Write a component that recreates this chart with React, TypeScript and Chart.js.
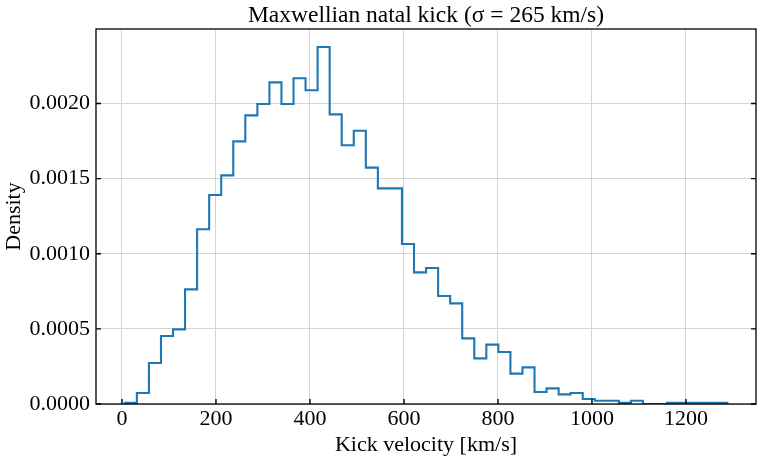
import { useEffect, useRef } from "react";
import { Chart, registerables } from "chart.js";

Chart.register(...registerables);

// Histogram of simulated natal kick speeds (50 equal-width bins, density-normalised)
const binLow = 6;
const binHigh = 1288;
const densities = [
  0.0000078, 0.000073, 0.000273, 0.000453, 0.000497, 0.000763, 0.001163, 0.001391, 0.001522, 0.001748,
  0.001921, 0.001997, 0.002141, 0.001997, 0.002168, 0.002088, 0.002376, 0.001928, 0.001722, 0.001819,
  0.001573, 0.001435, 0.001435, 0.001065, 0.000876, 0.000905, 0.000719, 0.00067, 0.000437, 0.000304,
  0.000395, 0.000346, 0.000202, 0.000244, 0.00008, 0.000104, 0.000064, 0.000073, 0.000033, 0.000022,
  0.000022, 0.0000078, 0.000022, 0, 0, 0.0000078, 0.0000078, 0.0000078, 0.0000078, 0.0000078,
];

const xTicks = [0, 200, 400, 600, 800, 1000, 1200];
const yTicks = [0, 0.0005, 0.001, 0.0015, 0.002];
const xMin = -55.3;
const xMax = 1349;
const yMax = 0.002496;

const titleText = "Maxwellian natal kick (σ = 265 km/s)";
const xLabel = "Kick velocity [km/s]";
const yLabel = "Density";

const serif = "'Liberation Serif', 'Times New Roman', serif";

// Outline of a step histogram: rises from the baseline at the first edge,
// runs along each bin top and drops back at the last edge.
function stepOutline() {
  const n = densities.length;
  const width = (binHigh - binLow) / n;
  const pts: { x: number; y: number }[] = [{ x: binLow, y: 0 }];
  densities.forEach((d, i) => pts.push({ x: binLow + i * width, y: d }));
  pts.push({ x: binHigh, y: densities[n - 1] });
  pts.push({ x: binHigh, y: 0 });
  return pts;
}

// Black frame around the axes with short inward ticks (bottom, left, right),
// plus the title centred over the plotting area.
const framePlugin = {
  id: "axesFrame",
  afterDatasetsDraw(chart: any) {
    const { ctx, chartArea: a, scales } = chart;
    ctx.save();
    ctx.strokeStyle = "#000";
    ctx.lineWidth = 1.3;
    ctx.strokeRect(a.left, a.top, a.right - a.left, a.bottom - a.top);
    ctx.lineWidth = 1.4;
    const len = 5;
    ctx.beginPath();
    xTicks.forEach((v) => {
      const px = scales.x.getPixelForValue(v);
      ctx.moveTo(px, a.bottom);
      ctx.lineTo(px, a.bottom - len);
    });
    yTicks.forEach((v) => {
      const py = scales.y.getPixelForValue(v);
      ctx.moveTo(a.left, py);
      ctx.lineTo(a.left + len, py);
      ctx.moveTo(a.right, py);
      ctx.lineTo(a.right - len, py);
    });
    ctx.stroke();

    ctx.fillStyle = "#000";
    ctx.font = `23.5px ${serif}`;
    ctx.textAlign = "center";
    ctx.textBaseline = "alphabetic";
    ctx.fillText(titleText, (a.left + a.right) / 2, a.top - 7);
    ctx.restore();
  },
};

export default function App() {
  const canvasRef = useRef<HTMLCanvasElement | null>(null);

  useEffect(() => {
    if (!canvasRef.current) return;
    const chart = new Chart(canvasRef.current, {
      type: "line",
      data: {
        datasets: [
          {
            data: stepOutline(),
            // horizontal run first, then the vertical jump at the next edge
            stepped: "before",
            borderColor: "#1f77b4",
            borderWidth: 2.1,
            pointRadius: 0,
            fill: false,
          },
        ],
      },
      options: {
        responsive: false,
        devicePixelRatio: 1,
        animation: false,
        layout: { padding: { left: 0, right: 6, top: 29, bottom: 0 } },
        plugins: {
          legend: { display: false },
          tooltip: { enabled: false },
          title: { display: false },
        },
        scales: {
          x: {
            type: "linear",
            min: xMin,
            max: xMax,
            afterBuildTicks: (scale: any) => {
              scale.ticks = xTicks.map((v) => ({ value: v }));
            },
            afterFit: (scale: any) => {
              scale.height = 57;
            },
            grid: { color: "#d4d4d4", lineWidth: 1, drawTicks: false },
            border: { display: false },
            ticks: {
              color: "#000",
              padding: 2,
              maxRotation: 0,
              font: { family: serif, size: 22 },
              callback: (v: any) => String(v),
            },
            title: {
              display: true,
              text: xLabel,
              color: "#000",
              font: { family: serif, size: 22 },
              padding: { top: 0, bottom: 3 },
            },
          },
          y: {
            type: "linear",
            min: 0,
            max: yMax,
            afterBuildTicks: (scale: any) => {
              scale.ticks = yTicks.map((v) => ({ value: v }));
            },
            afterFit: (scale: any) => {
              scale.width = 96;
            },
            grid: { color: "#d4d4d4", lineWidth: 1, drawTicks: false },
            border: { display: false },
            ticks: {
              color: "#000",
              padding: 6,
              font: { family: serif, size: 22 },
              callback: (v: any) => Number(v).toFixed(4),
            },
            title: {
              display: true,
              text: yLabel,
              color: "#000",
              font: { family: serif, size: 22 },
              padding: { top: 1, bottom: 0 },
            },
          },
        },
      },
      plugins: [framePlugin],
    });
    return () => chart.destroy();
  }, []);

  return (
    <canvas
      ref={canvasRef}
      width={762}
      height={461}
      style={{ position: "absolute", left: 0, top: 0, display: "block" }}
    />
  );
}
